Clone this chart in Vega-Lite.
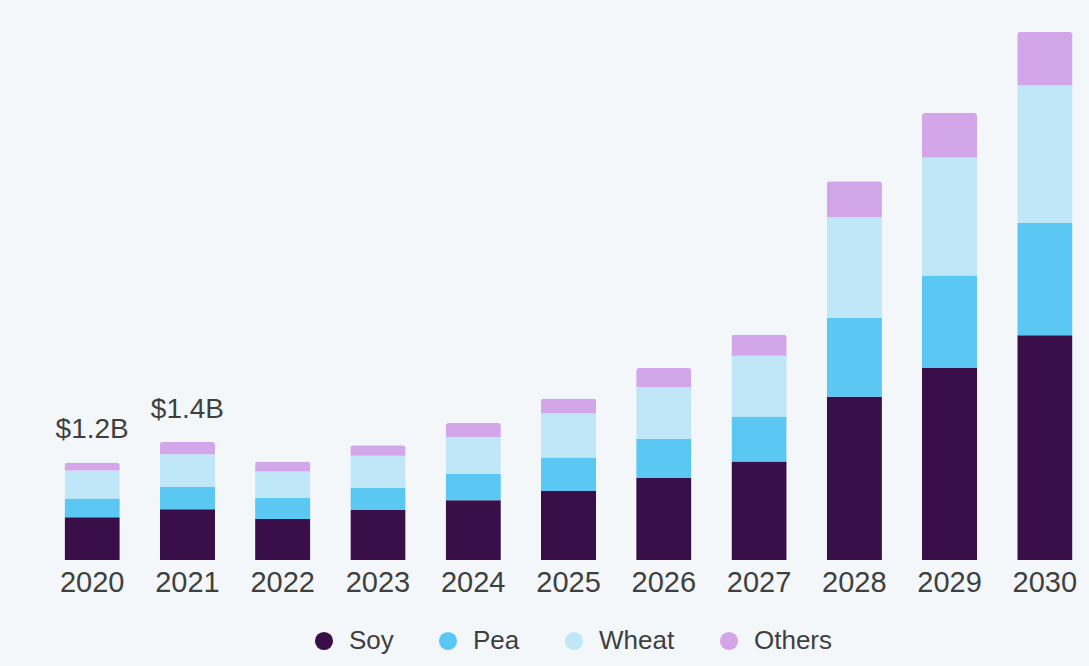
{
  "$schema": "https://vega.github.io/schema/vega-lite/v6.json",
  "autosize": {"type": "none"},
  "width": 1027,
  "height": 533,
  "padding": {"left": 55, "top": 27, "right": 7, "bottom": 106},
  "background": "#f3f7fa",
  "config": {
    "view": {"stroke": null},
    "font": "Liberation Sans"
  },
  "data": {
    "values": [
      {"year": "2020", "type": "Soy", "k": 1, "value": 0.52},
      {"year": "2020", "type": "Pea", "k": 2, "value": 0.23},
      {"year": "2020", "type": "Wheat", "k": 3, "value": 0.34},
      {"year": "2020", "type": "Others", "k": 4, "value": 0.10},
      {"year": "2021", "type": "Soy", "k": 1, "value": 0.62},
      {"year": "2021", "type": "Pea", "k": 2, "value": 0.27},
      {"year": "2021", "type": "Wheat", "k": 3, "value": 0.40},
      {"year": "2021", "type": "Others", "k": 4, "value": 0.15},
      {"year": "2022", "type": "Soy", "k": 1, "value": 0.50},
      {"year": "2022", "type": "Pea", "k": 2, "value": 0.26},
      {"year": "2022", "type": "Wheat", "k": 3, "value": 0.32},
      {"year": "2022", "type": "Others", "k": 4, "value": 0.12},
      {"year": "2023", "type": "Soy", "k": 1, "value": 0.61},
      {"year": "2023", "type": "Pea", "k": 2, "value": 0.27},
      {"year": "2023", "type": "Wheat", "k": 3, "value": 0.39},
      {"year": "2023", "type": "Others", "k": 4, "value": 0.13},
      {"year": "2024", "type": "Soy", "k": 1, "value": 0.73},
      {"year": "2024", "type": "Pea", "k": 2, "value": 0.32},
      {"year": "2024", "type": "Wheat", "k": 3, "value": 0.45},
      {"year": "2024", "type": "Others", "k": 4, "value": 0.17},
      {"year": "2025", "type": "Soy", "k": 1, "value": 0.84},
      {"year": "2025", "type": "Pea", "k": 2, "value": 0.41},
      {"year": "2025", "type": "Wheat", "k": 3, "value": 0.54},
      {"year": "2025", "type": "Others", "k": 4, "value": 0.18},
      {"year": "2026", "type": "Soy", "k": 1, "value": 1.00},
      {"year": "2026", "type": "Pea", "k": 2, "value": 0.48},
      {"year": "2026", "type": "Wheat", "k": 3, "value": 0.63},
      {"year": "2026", "type": "Others", "k": 4, "value": 0.23},
      {"year": "2027", "type": "Soy", "k": 1, "value": 1.20},
      {"year": "2027", "type": "Pea", "k": 2, "value": 0.55},
      {"year": "2027", "type": "Wheat", "k": 3, "value": 0.74},
      {"year": "2027", "type": "Others", "k": 4, "value": 0.26},
      {"year": "2028", "type": "Soy", "k": 1, "value": 1.99},
      {"year": "2028", "type": "Pea", "k": 2, "value": 0.96},
      {"year": "2028", "type": "Wheat", "k": 3, "value": 1.23},
      {"year": "2028", "type": "Others", "k": 4, "value": 0.44},
      {"year": "2029", "type": "Soy", "k": 1, "value": 2.34},
      {"year": "2029", "type": "Pea", "k": 2, "value": 1.13},
      {"year": "2029", "type": "Wheat", "k": 3, "value": 1.44},
      {"year": "2029", "type": "Others", "k": 4, "value": 0.54},
      {"year": "2030", "type": "Soy", "k": 1, "value": 2.74},
      {"year": "2030", "type": "Pea", "k": 2, "value": 1.37},
      {"year": "2030", "type": "Wheat", "k": 3, "value": 1.68},
      {"year": "2030", "type": "Others", "k": 4, "value": 0.65}
    ]
  },
  "encoding": {
    "x": {
      "field": "year",
      "type": "nominal",
      "scale": {"paddingInner": 0.42, "paddingOuter": 0.1},
      "axis": {
        "title": null,
        "labelAngle": 0,
        "domain": false,
        "ticks": false,
        "labelPadding": 8,
        "labelFontSize": 29,
        "labelColor": "#3f3f3f"
      }
    }
  },
  "layer": [
    {
      "mark": {"type": "bar", "cornerRadiusEnd": 3},
      "encoding": {
        "y": {
          "field": "value",
          "type": "quantitative",
          "stack": "zero",
          "scale": {"domain": [0, 6.5]},
          "axis": null
        },
        "color": {
          "field": "type",
          "type": "nominal",
          "scale": {
            "domain": ["Soy", "Pea", "Wheat", "Others"],
            "range": ["#3a0e48", "#5bc7f3", "#bfe7f8", "#d3a5e9"]
          },
          "legend": {
            "title": null,
            "orient": "none",
            "legendX": 256,
            "legendY": 601,
            "direction": "horizontal",
            "symbolType": "circle",
            "symbolSize": 330,
            "symbolStrokeWidth": 0,
            "labelFontSize": 26,
            "labelColor": "#3f3f3f",
            "labelOffset": 12,
            "columnPadding": 41
          }
        },
        "order": {"field": "k", "type": "quantitative"}
      }
    },
    {
      "data": {
        "values": [
          {"year": "2020", "total": 1.19, "label": "$1.2B"},
          {"year": "2021", "total": 1.44, "label": "$1.4B"}
        ]
      },
      "mark": {
        "type": "text",
        "baseline": "alphabetic",
        "dy": -24,
        "fontSize": 28,
        "color": "#3f3f3f"
      },
      "encoding": {
        "y": {"field": "total", "type": "quantitative"},
        "text": {"field": "label"}
      }
    }
  ]
}
